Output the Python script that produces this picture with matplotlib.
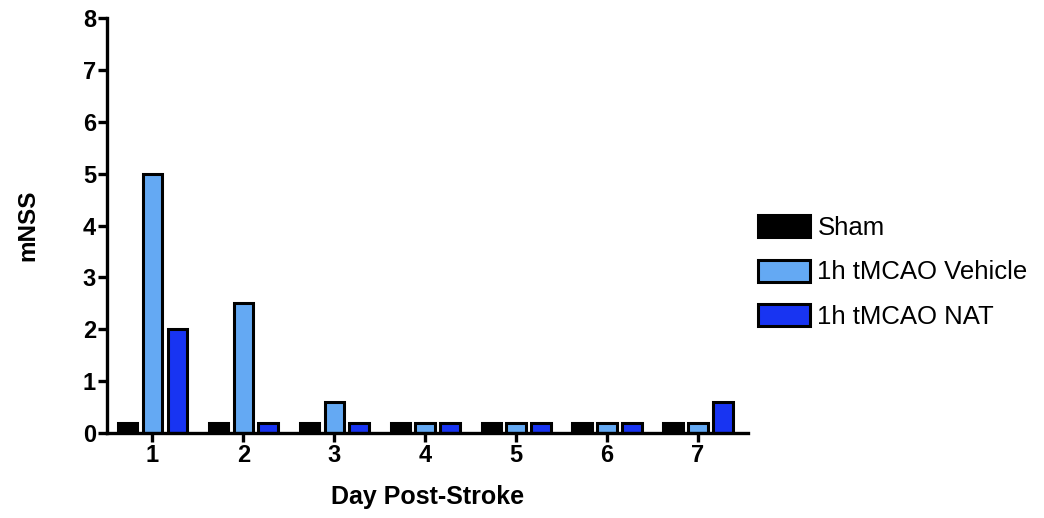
import matplotlib.pyplot as plt
import numpy as np

plt.rcParams['font.family'] = ['Liberation Sans', 'DejaVu Sans']

# mNSS score per day after stroke
days = [1, 2, 3, 4, 5, 6, 7]
sham = [0.2, 0.2, 0.2, 0.2, 0.2, 0.2, 0.2]
vehicle = [5.0, 2.5, 0.6, 0.2, 0.2, 0.2, 0.2]
nat = [2.0, 0.2, 0.2, 0.2, 0.2, 0.2, 0.6]

groups = ['Sham', '1h tMCAO Vehicle', '1h tMCAO NAT']
colors = ['#000000', '#64a9f3', '#1834f2']

fig = plt.figure(figsize=(10.44, 5.18), dpi=100)
ax = fig.add_axes([0.1025, 0.164, 0.614, 0.801])

x = np.array(days)
w = 0.215
step = 0.273
for i, (vals, lab, c) in enumerate(zip([sham, vehicle, nat], groups, colors)):
    ax.bar(x + (i - 1) * step, vals, width=w, color=c, edgecolor='black',
           linewidth=2.2, label=lab)

ax.set_xlim(0.5, 7.55)
ax.set_ylim(0, 8)
ax.set_xticks(days)
ax.set_yticks(range(0, 9))

for s in ['top', 'right']:
    ax.spines[s].set_visible(False)
for s in ['left', 'bottom']:
    ax.spines[s].set_linewidth(2.4)

ax.tick_params(direction='out', length=6.5, width=2.4, labelsize=17, pad=1.5)
for t in ax.get_xticklabels() + ax.get_yticklabels():
    t.set_fontweight('bold')

ax.set_xlabel('Day Post-Stroke', fontsize=18, fontweight='bold', labelpad=13)
ax.set_ylabel('mNSS', fontsize=17.5, fontweight='bold', labelpad=31)

ax.legend(loc='center left', bbox_to_anchor=(1.0, 0.388), frameon=False,
          fontsize=18.5, handlelength=2.0, handleheight=0.93, handletextpad=0.3,
          labelspacing=0.77, borderaxespad=0.0)

fig.savefig('out.png', dpi=100)
